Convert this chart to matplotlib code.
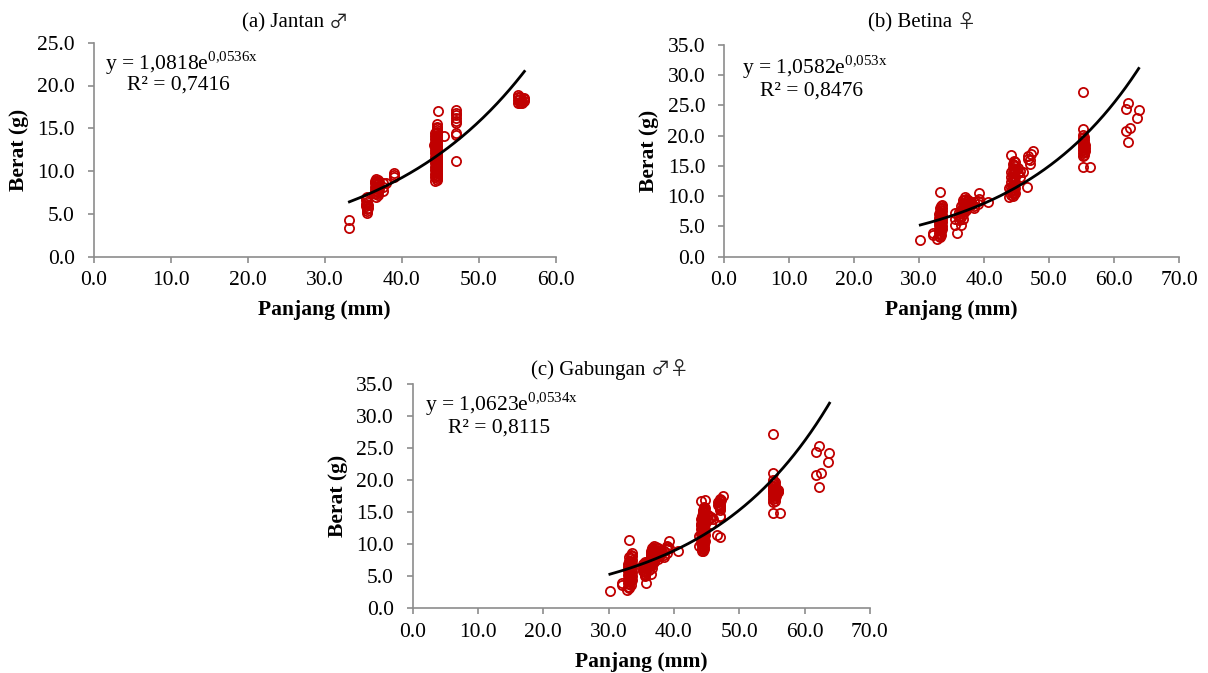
import numpy as np
import matplotlib
matplotlib.use("Agg")
import matplotlib.pyplot as plt

plt.rcParams['font.family'] = ['Liberation Serif', 'DejaVu Serif']
plt.rcParams['mathtext.fontset'] = 'custom'
plt.rcParams['mathtext.rm'] = 'Liberation Serif'

# ---------------- data ----------------
male_length = [
    33.2, 33.2,
    35.3, 35.3, 35.3, 35.3,
    35.5, 35.5, 35.5, 35.5, 35.5,
    35.6, 35.6,
    36.5, 36.5, 36.5, 36.5, 36.5,
    36.7, 36.7, 36.7, 36.7, 36.7, 36.7, 36.7,
    36.9, 36.9, 36.9, 36.9, 36.9,
    37.1, 37.1, 37.1,
    37.5, 37.5, 37.5,
    37.9,
    39.0, 39.0, 39.0,
    44.3, 44.3, 44.3, 44.3, 44.3, 44.3, 44.3, 44.3, 44.3, 44.3, 44.3, 44.3, 44.3, 44.3, 44.3,
    44.5, 44.5, 44.5, 44.5, 44.5, 44.5, 44.5, 44.5, 44.5, 44.5, 44.5, 44.5, 44.5, 44.5, 44.5, 44.5,
    44.6, 44.6, 44.6, 44.6, 44.6, 44.6, 44.6, 44.6, 44.6, 44.6, 44.6, 44.6, 44.6, 44.6, 44.6, 44.6, 44.6,
    44.7, 44.2,
    45.5,
    47.0, 47.0, 47.0, 47.0, 47.0, 47.0, 47.0, 47.0, 47.0,
    55.1, 55.1, 55.1, 55.1,
    55.3, 55.3, 55.3, 55.3,
    55.6, 55.6,
    55.9, 55.9, 55.9,
]
male_weight = [
    4.3, 3.4,
    6.9, 6.6, 6.2, 5.9,
    7.0, 6.4, 5.6, 5.3, 5.1,
    6.0, 5.7,
    7.4, 7.8, 8.2, 8.6, 8.9,
    7.0, 7.3, 7.7, 8.0, 8.4, 8.8, 9.1,
    7.2, 7.6, 8.1, 8.5, 9.0,
    7.9, 8.3, 8.7,
    7.7, 8.2, 8.6,
    8.6,
    9.3, 9.6, 9.8,
    8.9, 9.3, 9.7, 10.1, 10.5, 10.9, 11.3, 11.7, 12.1, 12.5, 12.9, 13.3, 13.7, 14.1, 14.5,
    9.0, 9.4, 9.8, 10.2, 10.6, 11.0, 11.4, 11.8, 12.2, 12.6, 13.0, 13.4, 13.8, 14.2, 14.6, 15.0,
    9.2, 9.6, 10.0, 10.4, 10.8, 11.2, 11.6, 12.0, 12.4, 12.8, 13.2, 13.6, 14.0, 14.4, 14.8, 15.2, 15.5,
    17.0, 13.0,
    14.1,
    11.2, 14.2, 14.5, 15.6, 15.9, 16.2, 16.5, 16.8, 17.1,
    18.9, 18.6, 18.3, 18.0,
    18.7, 18.4, 18.1, 17.9,
    18.0, 18.2,
    18.5, 18.2, 18.4,
]

female_length = [
    30.2,
    32.1, 32.1,
    32.8,
    33.0, 33.0, 33.0, 33.0, 33.0, 33.0, 33.0,
    33.2, 33.2, 33.2, 33.2, 33.2, 33.2, 33.2, 33.2, 33.2, 33.2,
    33.4, 33.4, 33.4, 33.4, 33.4, 33.4, 33.4, 33.4, 33.4,
    33.6, 33.6, 33.6, 33.6, 33.6, 33.6, 33.6, 33.6,
    35.5, 35.5, 35.6, 35.8,
    36.2, 36.2, 36.2,
    36.5, 36.5, 36.5, 36.5, 36.5,
    36.7, 36.7, 36.7, 36.7, 36.7, 36.7,
    37.0, 37.0, 37.0, 37.0, 37.0,
    37.3, 37.3, 37.3, 37.3,
    37.6, 37.6, 37.6,
    38.0, 38.0,
    38.5, 38.5, 38.5,
    39.0, 39.0,
    39.3, 39.3,
    40.6,
    43.8, 43.8,
    44.2, 44.2, 44.2, 44.2, 44.2, 44.2, 44.2,
    44.4, 44.4, 44.4, 44.4, 44.4, 44.4, 44.4, 44.4, 44.4,
    44.6, 44.6, 44.6, 44.6, 44.6, 44.6, 44.6, 44.6, 44.6,
    44.8, 44.8, 44.8, 44.8, 44.8, 44.8, 44.8,
    45.2, 45.2, 45.6, 45.6, 46.0, 46.6,
    46.7, 46.7, 47.0, 47.0, 47.2, 47.5,
    55.2, 55.2, 55.2, 55.2, 55.2, 55.2, 55.2, 55.2, 55.2, 55.2, 55.2,
    55.4, 55.4, 55.4, 55.4, 55.4, 55.4, 55.4,
    55.6, 55.6, 55.6,
    56.3,
    61.8, 61.8, 62.2, 62.2, 62.5, 63.6, 63.8,
]
female_weight = [
    2.7,
    3.9, 3.6,
    2.9,
    3.4, 4.0, 4.6, 5.2, 5.8, 6.4, 7.0,
    10.7, 3.2, 3.8, 4.4, 5.0, 5.6, 6.2, 6.8, 7.4, 8.0,
    3.6, 4.2, 4.8, 5.4, 6.0, 6.6, 7.2, 7.8, 8.4,
    4.5, 5.1, 5.7, 6.3, 6.9, 7.5, 8.1, 8.6,
    7.3, 6.3, 5.2, 3.9,
    6.0, 6.8, 7.4,
    5.3, 6.6, 7.2, 7.8, 8.4,
    6.3, 7.0, 7.6, 8.2, 8.8, 9.4,
    7.5, 8.1, 8.7, 9.3, 9.8,
    7.8, 8.4, 9.0, 9.6,
    8.2, 8.8, 9.4,
    8.5, 9.0,
    8.0, 8.4, 9.0,
    9.2, 8.7,
    10.5, 9.5,
    9.0,
    9.8, 11.3,
    16.8, 10.2, 10.8, 11.6, 12.4, 13.2, 14.0,
    10.0, 10.6, 11.2, 11.9, 12.6, 13.3, 14.0, 14.7, 15.4,
    10.3, 11.0, 11.7, 12.4, 13.1, 13.8, 14.5, 15.2, 15.8,
    10.5, 11.4, 12.3, 13.2, 14.1, 15.0, 15.6,
    13.8, 14.6, 13.2, 14.2, 14.0, 11.5,
    16.2, 16.6, 15.3, 16.0, 16.9, 17.5,
    27.3, 21.1, 14.9, 20.1, 19.6, 19.1, 18.6, 18.1, 17.6, 17.1, 16.6,
    19.8, 19.3, 18.8, 18.3, 17.8, 17.3, 16.8,
    18.5, 18.0, 17.5,
    14.9,
    24.5, 20.8, 25.4, 19.0, 21.2, 22.9, 24.2,
]

title_words = ["(a) Jantan", "(b) Betina", "(c) Gabungan"]
title_symbols = ["\u2642", "\u2640", "\u2642\u2640"]
coef_a = [1.0818, 1.0582, 1.0623]
coef_b = [0.0536, 0.053, 0.0534]
coef_a_txt = ["1,0818", "1,0582", "1,0623"]
coef_b_txt = ["0,0536", "0,053", "0,0534"]
r2_txt = ["0,7416", "0,8476", "0,8115"]
x_max = [60, 70, 70]
y_max = [25, 35, 35]

# ---------------- figure ----------------
W, H = 1208, 673
fig = plt.figure(figsize=(W / 100, H / 100), dpi=100)
renderer = fig.canvas.get_renderer()

def frac(l, t, r, b):
    return [l / W, 1 - b / H, (r - l) / W, (b - t) / H]

ax_boxes = [frac(93.5, 42.7, 556, 256.7), frac(724, 45, 1179, 256.7), frac(412.5, 384.3, 870, 608.3)]
title_pos = [(295, 23), (922, 23), (610, 370)]
eq_pos = [((0.025, 0.905), (0.072, 0.803)),
          ((0.039, 0.895), (0.079, 0.782)),
          ((0.027, 0.912), (0.078, 0.806))]

datasets = [
    (male_length, male_weight),
    (female_length, female_weight),
    (male_length + female_length, male_weight + female_weight),
]

red = '#C00000'
grey = '#8c8c8c'

for i in range(3):
    ax = fig.add_axes(ax_boxes[i])
    xs, ys = datasets[i]
    ax.plot(xs, ys, linestyle='none', marker='o', markersize=6.6,
            markerfacecolor='none', markeredgecolor=red, markeredgewidth=1.3, zorder=3)
    xf = np.linspace(min(xs), max(xs), 200)
    ax.plot(xf, coef_a[i] * np.exp(coef_b[i] * xf), color='black', lw=2.0, zorder=4)

    ax.set_xlim(0, x_max[i])
    ax.set_ylim(0, y_max[i])
    xt = np.arange(0, x_max[i] + 1, 10)
    yt = np.arange(0, y_max[i] + 1, 5)
    ax.set_xticks(xt)
    ax.set_yticks(yt)
    ax.set_xticklabels([f"{v:.1f}" for v in xt])
    ax.set_yticklabels([f"{v:.1f}" for v in yt])
    for s in ['top', 'right']:
        ax.spines[s].set_visible(False)
    for s in ['left', 'bottom']:
        ax.spines[s].set_color(grey)
        ax.spines[s].set_linewidth(1.2)
    ax.tick_params(axis='both', direction='out', length=4.5, width=1.2, color=grey,
                   labelsize=15.5, labelcolor='black')
    ax.tick_params(axis='x', pad=6)
    ax.tick_params(axis='y', pad=9)
    ax.set_xlabel("Panjang (mm)", fontsize=15.5, fontweight='bold', labelpad=7)
    ax.set_ylabel("Berat (g)", fontsize=15.5, fontweight='bold', labelpad=6)
    ax.patch.set_visible(False)

    (e1x, e1y), (e2x, e2y) = eq_pos[i]
    ax.text(e1x, e1y, "y = " + coef_a_txt[i] + "e$^{\\mathrm{" + coef_b_txt[i].replace(',', '{,}') + "x}}$",
            transform=ax.transAxes, fontsize=15.5, va='center', ha='left')
    ax.text(e2x, e2y, "R\u00b2 = " + r2_txt[i], transform=ax.transAxes,
            fontsize=15.5, va='center', ha='left')

    # title: words in serif, symbols in a font with larger gender glyphs
    tx, ty = title_pos[i]
    t1 = fig.text(0, 1 - ty / H, title_words[i] + " ", fontsize=15, ha='left', va='center')
    t2 = fig.text(0, 1 - (ty - 0.5) / H, title_symbols[i], fontsize=14, ha='left', va='center',
                  family='Noto Sans CJK SC', color='#222222')
    w1 = t1.get_window_extent(renderer).width
    w2 = t2.get_window_extent(renderer).width
    x0 = tx - (w1 + w2) / 2
    t1.set_x(x0 / W)
    t2.set_x((x0 + w1) / W)

fig.savefig("out.png", dpi=100)
